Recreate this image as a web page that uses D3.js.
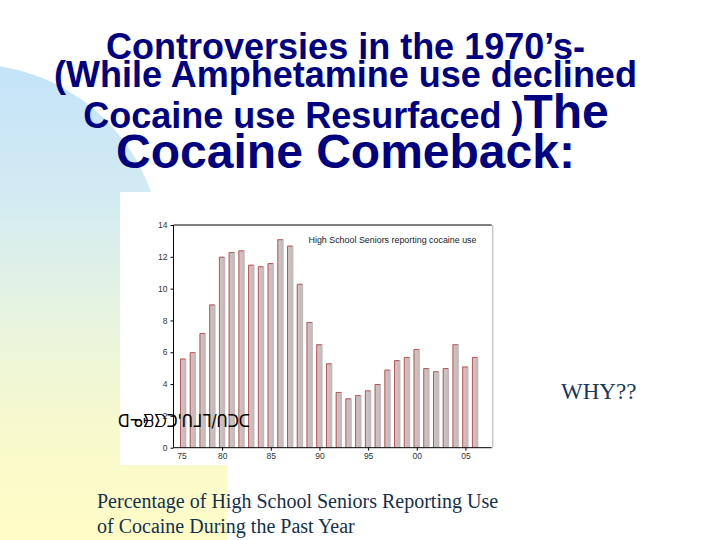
<!DOCTYPE html>
<html><head><meta charset="utf-8">
<script src="https://cdn.jsdelivr.net/npm/d3@7"></script>
<style>html,body{margin:0;padding:0;background:#fff;}svg{display:block;}</style>
</head><body>
<script>
const years = [1975,1976,1977,1978,1979,1980,1981,1982,1983,1984,1985,1986,1987,1988,1989,1990,1991,1992,1993,1994,1995,1996,1997,1998,1999,2000,2001,2002,2003,2004,2005];
const values = [5.6,6.0,7.2,9.0,12.0,12.3,12.4,11.5,11.4,11.6,13.1,12.7,10.3,7.9,6.5,5.3,3.5,3.1,3.3,3.6,4.0,4.9,5.5,5.7,6.2,5.0,4.8,5.0,6.5,5.1,5.7];
const xTicks = [1975,1980,1985,1990,1995,2000,2005];
const yTicks = [0,2,4,6,8,10,12,14];
const titleLines = ["Controversies in the 1970\u2019s-","(While Amphetamine use declined","Cocaine use Resurfaced )","Cocaine Comeback:"];
const titleTail = "The";
const legendText = "High School Seniors reporting cocaine use";
const sideText = "WHY??";
const captionLines = ["Percentage of High School Seniors Reporting Use","of Cocaine During the Past Year"];
const garbled = "\u15E1\u14C0\u1669\u15E4\u1450'\u144E\u14A7\u14A3/\u144E\u1450\u1455";

const W = 720, H = 540;
const svg = d3.select("body").append("svg").attr("width", W).attr("height", H);
const defs = svg.append("defs");
const bg = defs.append("linearGradient").attr("id","bgGrad").attr("gradientUnits","userSpaceOnUse")
  .attr("x1",0).attr("y1",64).attr("x2",0).attr("y2",540);
[[0,"#c4e3f8"],[0.29,"#d3ebf2"],[0.53,"#e7f4df"],[0.77,"#f8f9cc"],[1,"#fffcc6"]].forEach(s =>
  bg.append("stop").attr("offset", s[0]).attr("stop-color", s[1]));
const barGrad = defs.append("linearGradient").attr("id","barGrad").attr("x1",0).attr("y1",0).attr("x2",1).attr("y2",0);
barGrad.append("stop").attr("offset","0%").attr("stop-color","#d6c4c4");
barGrad.append("stop").attr("offset","100%").attr("stop-color","#bdbaba");

// slide background shape (circle + lower band)
const bgG = svg.append("g").attr("fill","url(#bgGrad)");
bgG.append("circle").attr("cx",-30).attr("cy",256).attr("r",192);
bgG.append("rect").attr("x",0).attr("y",256).attr("width",227).attr("height",284);

// title
const tg = svg.append("g").attr("fill","#000080").attr("font-family","'Liberation Sans', Arial, sans-serif").attr("font-weight","bold").attr("text-anchor","middle");
tg.append("text").attr("x",345.5).attr("y",59).attr("font-size",36).text(titleLines[0]);
tg.append("text").attr("x",345.5).attr("y",87).attr("font-size",36).text(titleLines[1]);
const t3 = tg.append("text").attr("x",346).attr("y",128);
t3.append("tspan").attr("font-size",36).text(titleLines[2]);
t3.append("tspan").attr("font-size",48).text(titleTail);
tg.append("text").attr("x",345.5).attr("y",168).attr("font-size",48).text(titleLines[3]);

// chart image box
svg.append("rect").attr("x",120).attr("y",192).attr("width",382).attr("height",273).attr("fill","#fff");

const x = d3.scaleLinear().domain([1975, 2007.7]).range([173.5, 491.7]);
const y = d3.scaleLinear().domain([0, 14]).range([447.7, 225]);
const bw = 6.3;

const g = svg.append("g");
g.append("line").attr("x1",x(2007.7)+1).attr("x2",x(2007.7)+1).attr("y1",y(14)).attr("y2",y(0)).attr("stroke","#c8c8c8").attr("stroke-width",1.5);
const bars = g.selectAll("g.bar").data(years.map((yr,i)=>({yr, v: values[i]}))).enter().append("g").attr("class","bar");
bars.append("rect")
  .attr("x", d => x(d.yr + 1) - bw/2)
  .attr("y", d => y(d.v))
  .attr("width", bw)
  .attr("height", d => y(0) - y(d.v))
  .attr("fill","url(#barGrad)");
bars.append("path")
  .attr("d", d => `M${x(d.yr+1)-bw/2+0.4},${y(0)}V${y(d.v)+0.4}H${x(d.yr+1)+bw/2-1}`)
  .attr("fill","none").attr("stroke","#b84848").attr("stroke-width",0.9);

const yAxis = g.append("g").attr("transform",`translate(${x(1975)},0)`)
  .call(d3.axisLeft(y).tickValues(yTicks).tickSize(3).tickPadding(3).tickFormat(d3.format("d")));
const xAxis = g.append("g").attr("transform",`translate(0,${y(0)})`)
  .call(d3.axisBottom(x).tickValues(xTicks).tickSize(3).tickPadding(2).tickFormat(d => String(d).slice(2)));
[yAxis, xAxis].forEach(a => {
  a.select(".domain").attr("stroke","#000").attr("stroke-width",1);
  a.selectAll(".tick line").attr("stroke","#000");
  a.selectAll(".tick text").attr("fill","#333").attr("font-size",8.5).attr("font-family","'Liberation Sans', Arial, sans-serif");
});
xAxis.select(".domain").attr("d", `M${x(1975)},0H${x(2007.7)}`);
xAxis.selectAll(".tick").filter(d => d === 1975).select("line").remove();
xAxis.selectAll(".tick").filter(d => d === 1975).select("text").attr("dx", 8);
yAxis.select(".domain").attr("d", `M0,${y(0)}V${y(14)}`);
g.append("line").attr("x1",x(1975)).attr("x2",x(2007.7)).attr("y1",y(14)).attr("y2",y(14)).attr("stroke","#000").attr("stroke-width",1);

g.append("text").attr("x",308.5).attr("y",243).attr("font-size",8.5).attr("fill","#222")
  .attr("font-family","'Liberation Sans', Arial, sans-serif")
  .attr("textLength",168).attr("lengthAdjust","spacingAndGlyphs").text(legendText);

svg.append("text").attr("x",118).attr("y",427).attr("font-size",18).attr("fill","#000")
  .attr("font-family","'DejaVu Sans', sans-serif").attr("textLength",132).attr("lengthAdjust","spacingAndGlyphs").text(garbled);

svg.append("text").attr("x",561).attr("y",399).attr("font-size",23).attr("fill","#17375e")
  .attr("font-family","'Liberation Serif', 'Times New Roman', serif").text(sideText);

const cap = svg.append("g").attr("fill","#14304f").attr("font-family","'Liberation Serif', 'Times New Roman', serif").attr("font-size",20);
cap.append("text").attr("x",97).attr("y",508).text(captionLines[0]);
cap.append("text").attr("x",97).attr("y",532.5).text(captionLines[1]);
</script>
</body></html>
